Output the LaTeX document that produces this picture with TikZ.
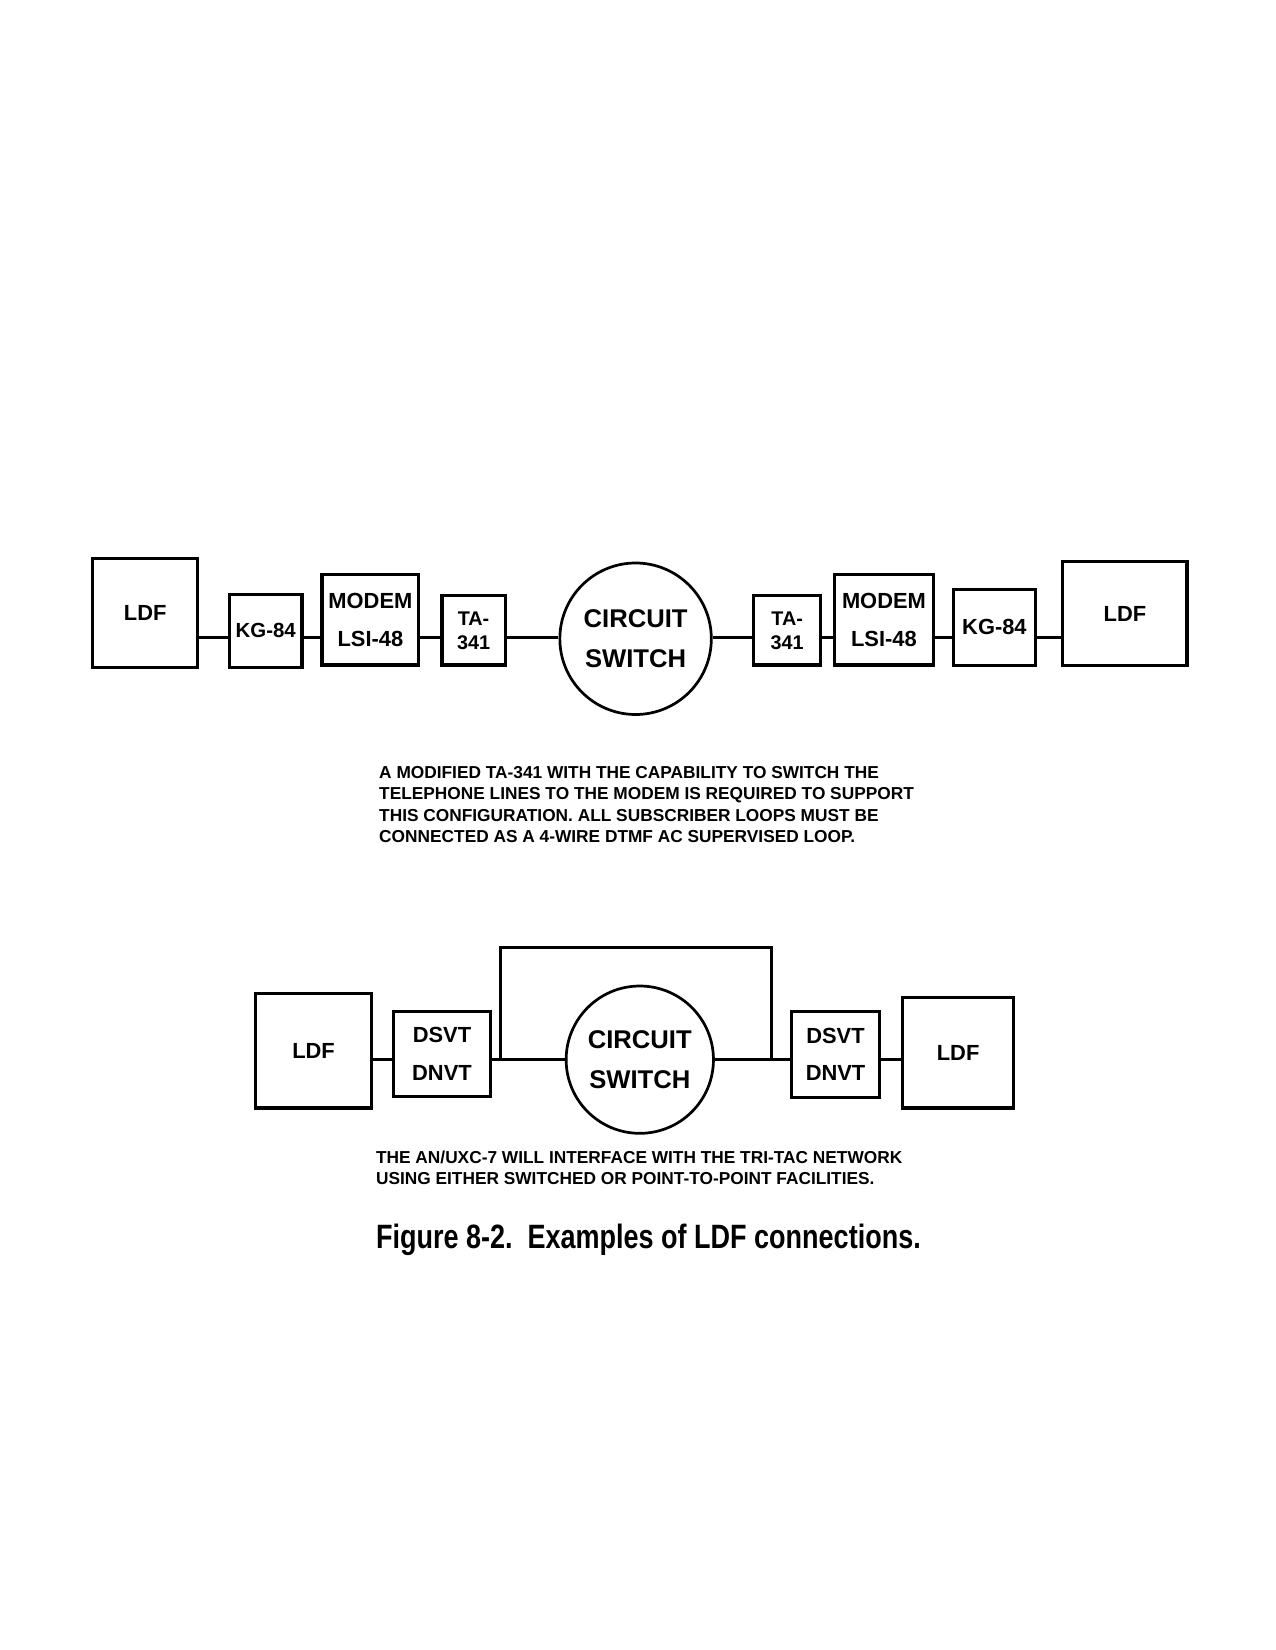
\documentclass[tikz,border=0pt]{standalone}
\usepackage{fontspec}
\setmainfont{Liberation Sans}
\newfontfamily\capfont[FakeStretch=0.8]{Liberation Sans}
\usetikzlibrary{positioning}
\tikzset{box/.style = {rectangle,draw,line width=1.5pt,inner sep=0pt,align=center,font=\bfseries\fontsize{10.5}{18}\selectfont},
         swnode/.style = {circle,draw,line width=1.3pt,inner sep=0pt,align=center,font=\bfseries\fontsize{12.3}{19.5}\selectfont},
         wire/.style = {line width=1.4pt},
         note/.style = {anchor=north west,inner sep=0pt,align=left,font=\bfseries\fontsize{8.3}{10.2}\selectfont}}

\begin{document}
\begin{tikzpicture}[x=0.505pt,y=-0.505pt]
  \useasboundingbox (0,0) rectangle (1212,1568);
  % first example
  \node [box,minimum width=50.5pt,minimum height=52pt] (ldfA) at (138,582.5) {LDF};
  \node [box,minimum width=34.8pt,minimum height=34.8pt,font=\bfseries\fontsize{9.8}{12}\selectfont] (kgA) at (252.5,599.5) {KG-84};
  \node [box,minimum width=46.5pt,minimum height=43.4pt] (modemA) at (352,589) {MODEM\\LSI-48};
  \node [box,minimum width=30.3pt,minimum height=33.3pt,font=\bfseries\fontsize{9.5}{11.5}\selectfont] (taA) at (450,599) {TA-\\341};
  \node [swnode,minimum size=72.7pt] (swA) at (604,607) {CIRCUIT\\SWITCH};
  \node [box,minimum width=32.3pt,minimum height=33.3pt,font=\bfseries\fontsize{9.5}{11.5}\selectfont] (taB) at (748,599) {TA-\\341};
  \node [box,minimum width=47.5pt,minimum height=43.4pt] (modemB) at (840,589) {MODEM\\LSI-48};
  \node [box,minimum width=39.4pt,minimum height=36.4pt] (kgB) at (945,596) {KG-84};
  \node [box,minimum width=59.6pt,minimum height=49.5pt] (ldfB) at (1069,583) {LDF};
  \coordinate (busA) at (0,606);
  \foreach \a/\b in {ldfA/kgA,kgA/modemA,modemA/taA,taA/swA,swA/taB,taB/modemB,modemB/kgB,kgB/ldfB} {
    \draw [wire] (\a.east |- busA) -- (\b.west |- busA);
  }
  \node [note] (noteA) at (360,728) {A MODIFIED TA-341 WITH THE CAPABILITY TO SWITCH THE\\
    TELEPHONE LINES TO THE MODEM IS REQUIRED TO SUPPORT\\
    THIS CONFIGURATION. ALL SUBSCRIBER LOOPS MUST BE\\
    CONNECTED AS A 4-WIRE DTMF AC SUPERVISED LOOP.};
  % second example
  \node [box,minimum width=55.6pt,minimum height=55pt] (ldfC) at (298,998.5) {LDF};
  \node [box,minimum width=46.5pt,minimum height=40.9pt] (dvA) at (420,1001.5) {DSVT\\DNVT};
  \node [swnode,minimum size=70.7pt] (swB) at (608,1007) {CIRCUIT\\SWITCH};
  \node [box,minimum width=42.4pt,minimum height=41.4pt] (dvB) at (794,1002) {DSVT\\DNVT};
  \node [box,minimum width=53pt,minimum height=53pt] (ldfD) at (910.5,1000.5) {LDF};
  \coordinate (busB) at (0,1007);
  \foreach \a/\b in {ldfC/dvA,dvA/swB,swB/dvB,dvB/ldfD} {
    \draw [wire] (\a.east |- busB) -- (\b.west |- busB);
  }
  \coordinate (tapL) at (476,1007);
  \coordinate (tapR) at (733,1007);
  \coordinate (loopTop) at (0,900);
  \draw [wire] (tapL) -- (tapL |- loopTop) -| (tapR);
  \node [note] (noteB) at (357,1093) {THE AN/UXC-7 WILL INTERFACE WITH THE TRI-TAC NETWORK\\
    USING EITHER SWITCHED OR POINT-TO-POINT FACILITIES.};
  \node [anchor=north west,inner sep=0pt,font=\capfont\bfseries\fontsize{16.2}{19}\selectfont] (caption) at (357,1163) {Figure 8-2.\ \ Examples of LDF connections.};
\end{tikzpicture}
\end{document}
